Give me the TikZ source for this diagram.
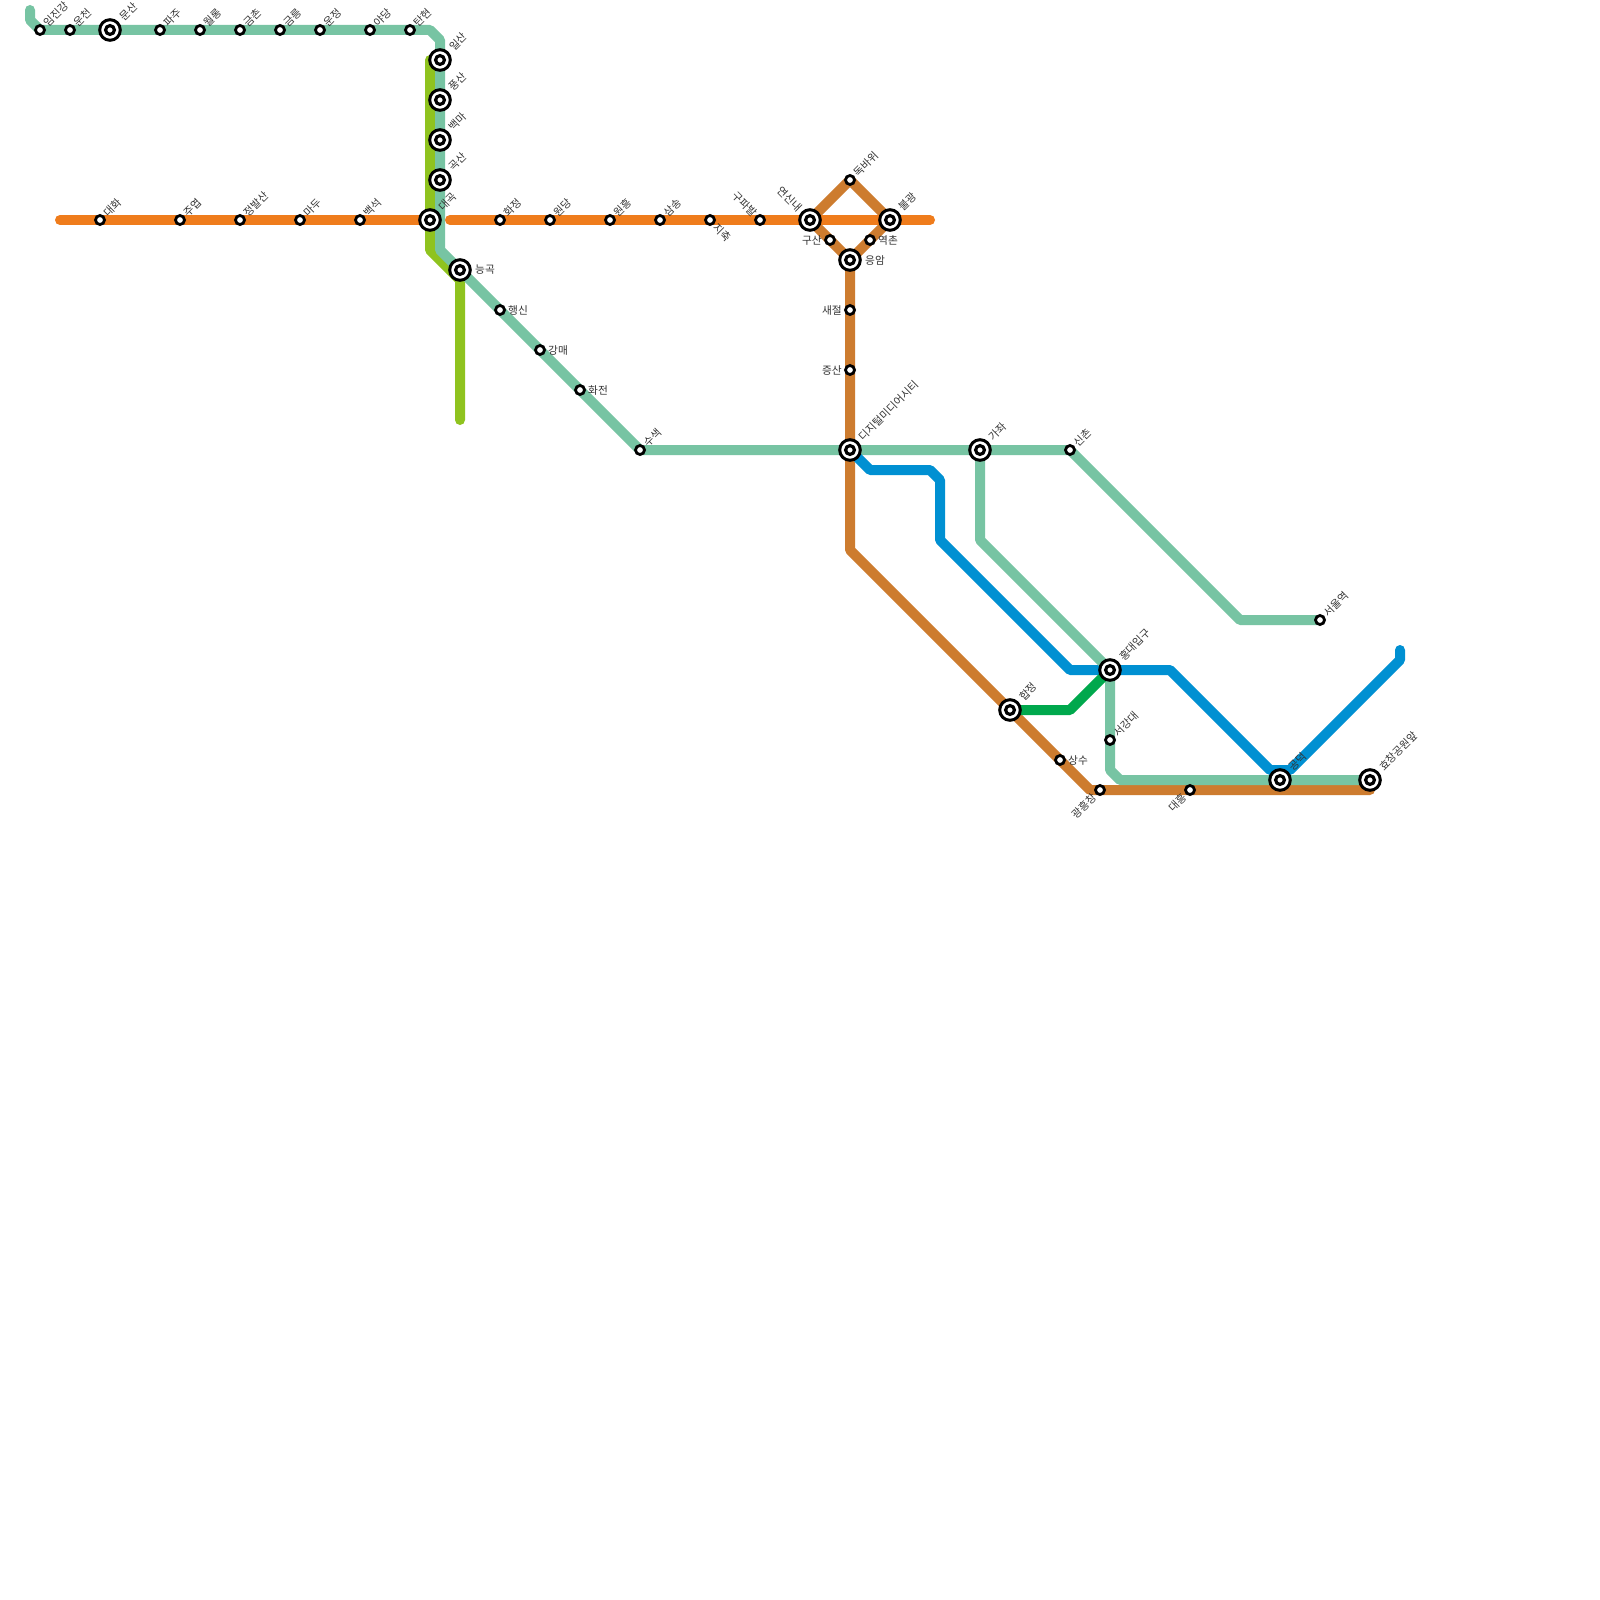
\documentclass[tikz,border=0pt]{standalone}
\usepackage{fontspec}
\newfontfamily\kr{Noto Sans CJK KR}
\usetikzlibrary{backgrounds}
\definecolor{cgreen}{HTML}{77C4A3}
\definecolor{cyellow}{HTML}{8FC31F}
\definecolor{corange}{HTML}{EF7C1C}
\definecolor{cbrown}{HTML}{CD7C2F}
\definecolor{cblue}{HTML}{0090D2}
\definecolor{cdark}{HTML}{00A84D}
\definecolor{ctext}{HTML}{333333}
\tikzset{
  line/.style={line width=10pt,line join=round,line cap=round},
  small/.style={circle,draw=black,fill=white,line width=2.8pt,minimum size=9pt,inner sep=0pt},
  big/.style={circle,draw=black,fill=white,line width=3pt,minimum size=20.6pt,inner sep=0pt,
    path picture={\draw[line width=3.2pt,fill=white] (path picture bounding box.center) circle (4.4pt);}},
  lab/.style={font=\kr\fontsize{10.7}{10.7}\selectfont,text=ctext,inner sep=0pt},
  ne/.style={lab,anchor=west,shift={(5.5,-5.5)},rotate=45},
  neb/.style={lab,anchor=west,shift={(11,-11)},rotate=45},
  e/.style={lab,anchor=west,shift={(8,0)}},
  eb/.style={lab,anchor=west,shift={(15,0)}},
  w/.style={lab,anchor=east,shift={(-8,0)}},
  sw/.style={lab,anchor=east,shift={(-5.5,5.5)},rotate=45},
  nw/.style={lab,anchor=east,shift={(-5,-5)},rotate=-45},
  nwb/.style={lab,anchor=east,shift={(-10,-10)},rotate=-45},
  se/.style={lab,anchor=west,shift={(5.5,5.5)},rotate=-45},
}
\newcommand\stn[5]{\node[#1] (#2) at (#3) {}; \node[#5] (#2L) at (#3) {#4};}
\begin{document}
\begin{tikzpicture}[x=1pt,y=-1pt]
\useasboundingbox (0,0) rectangle (1600,1600);
% Gyeongui-Jungang north
\stn{small}{imjin}{40,30}{임진강}{ne}
\stn{small}{uncheon}{70,30}{운천}{ne}
\stn{big}{munsan}{110,30}{문산}{neb}
\stn{small}{paju}{160,30}{파주}{ne}
\stn{small}{wollong}{200,30}{월롱}{ne}
\stn{small}{geumchon}{240,30}{금촌}{ne}
\stn{small}{geumneung}{280,30}{금릉}{ne}
\stn{small}{unjeong}{320,30}{운정}{ne}
\stn{small}{yadang}{370,30}{야당}{ne}
\stn{small}{tanhyeon}{410,30}{탄현}{ne}
\stn{big}{ilsan}{440,60}{일산}{neb}
\stn{big}{pungsan}{440,100}{풍산}{neb}
\stn{big}{baengma}{440,140}{백마}{neb}
\stn{big}{goksan}{440,180}{곡산}{neb}
\stn{big}{daegok}{430,220}{대곡}{neb}
\stn{big}{neunggok}{460,270}{능곡}{eb}
\stn{small}{haengsin}{500,310}{행신}{e}
\stn{small}{gangmae}{540,350}{강매}{e}
\stn{small}{hwajeon}{580,390}{화전}{e}
\stn{small}{susaek}{640,450}{수색}{ne}
\stn{big}{dmc}{850,450}{디지털미디어시티}{neb}
\stn{big}{gajwa}{980,450}{가좌}{neb}
\stn{small}{sinchon}{1070,450}{신촌}{ne}
\stn{small}{seoul}{1320,620}{서울역}{ne}
\stn{big}{hongdae}{1110,670}{홍대입구}{neb}
\stn{small}{sogang}{1110,740}{서강대}{ne}
\stn{big}{gongdeok}{1280,780}{공덕}{neb}
\stn{big}{hyochang}{1370,780}{효창공원앞}{neb}
% Line 3
\stn{small}{daehwa}{100,220}{대화}{ne}
\stn{small}{juyeop}{180,220}{주엽}{ne}
\stn{small}{jeongbal}{240,220}{정발산}{ne}
\stn{small}{madu}{300,220}{마두}{ne}
\stn{small}{baekseok}{360,220}{백석}{ne}
\stn{small}{hwajeong}{500,220}{화정}{ne}
\stn{small}{wondang}{550,220}{원당}{ne}
\stn{small}{wonheung}{610,220}{원흥}{ne}
\stn{small}{samsong}{660,220}{삼송}{ne}
\stn{small}{jichuk}{710,220}{지축}{se}
\stn{small}{gupabal}{760,220}{구파발}{nw}
\stn{big}{yeonsinnae}{810,220}{연신내}{nwb}
\stn{big}{bulgwang}{890,220}{불광}{neb}
% Line 6
\stn{small}{dokbawi}{850,180}{독바위}{ne}
\stn{small}{gusan}{830,240}{구산}{w}
\stn{small}{yeokchon}{870,240}{역촌}{e}
\stn{big}{eungam}{850,260}{응암}{eb}
\stn{small}{saejeol}{850,310}{새절}{w}
\stn{small}{jeungsan}{850,370}{증산}{w}
\stn{big}{hapjeong}{1010,710}{합정}{neb}
\stn{small}{sangsu}{1060,760}{상수}{e}
\stn{small}{gwangheung}{1100,790}{광흥창}{sw}
\stn{small}{daeheung}{1190,790}{대흥}{sw}
% bends
\coordinate (g0) at (30,10);
\coordinate (g1) at (30,20);
\coordinate (g2) at (430,30);
\coordinate (g3) at (440,40);
\coordinate (g4) at (440,250);
\coordinate (g5) at (1240,620);
\coordinate (h1) at (980,540);
\coordinate (h2) at (1110,770);
\coordinate (h3) at (1120,780);
\coordinate (y0) at (430,60);
\coordinate (y1) at (430,250);
\coordinate (y2) at (460,280);
\coordinate (y3) at (460,420);
\coordinate (o0) at (60,220);
\coordinate (o1) at (450,220);
\coordinate (o2) at (930,220);
\coordinate (b1) at (850,550);
\coordinate (b2) at (1370,790);
\coordinate (b3) at (1090,790);
\coordinate (u1) at (870,470);
\coordinate (u2) at (930,470);
\coordinate (u3) at (940,480);
\coordinate (u4) at (940,540);
\coordinate (u5) at (1070,670);
\coordinate (u6) at (1170,670);
\coordinate (u7) at (1270,770);
\coordinate (u8) at (1290,770);
\coordinate (u9) at (1400,660);
\coordinate (u10) at (1400,650);
\coordinate (d1) at (1070,710);
\begin{scope}[on background layer]
\fill[white] (0,0) rectangle (1600,1600);
\draw[line,cyellow] (y0) -- (y1) -- (y2) -- (y3);
\draw[line,cgreen] (g0) -- (g1) -- (imjin.center) -- (g2) -- (g3) -- (g4) -- (neunggok.center) -- (susaek.center) -- (dmc.center) -- (gajwa.center) -- (sinchon.center) -- (g5) -- (seoul.center);
\draw[line,cbrown] (yeonsinnae.center) -- (dokbawi.center) -- (bulgwang.center) -- (eungam.center) -- (yeonsinnae.center);
\draw[line,cbrown] (eungam.center) -- (b1) -- (hapjeong.center) -- (b3) -- (b2) -- (hyochang.center);
\draw[line,cblue] (dmc.center) -- (u1) -- (u2) -- (u3) -- (u4) -- (u5) -- (u6) -- (u7) -- (u8) -- (u9) -- (u10);
\draw[line,cgreen] (gajwa.center) -- (h1) -- (hongdae.center) -- (h2) -- (h3) -- (hyochang.center);
\draw[line,cdark] (hapjeong.center) -- (d1) -- (hongdae.center);
\draw[line,corange] (o0) -- (daegok.center);
\draw[line,corange] (o1) -- (o2);
\end{scope}
\end{tikzpicture}
\end{document}
